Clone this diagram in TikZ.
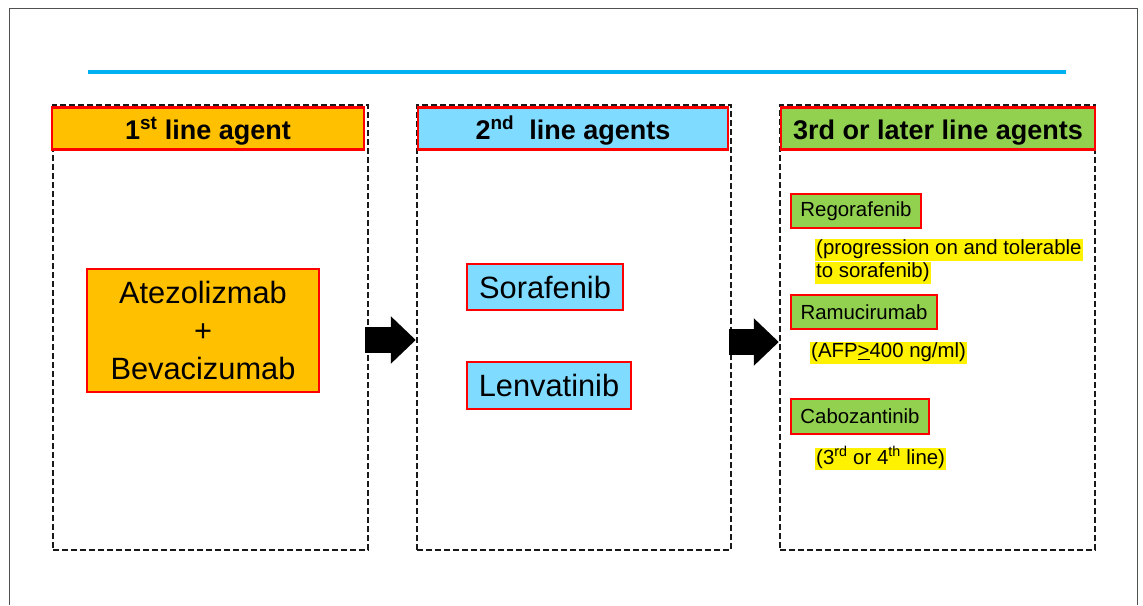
\documentclass[tikz,border=0pt]{standalone}
\usepackage{fontspec}
\setmainfont{Liberation Sans}
\usetikzlibrary{arrows.meta}
\definecolor{hdrorange}{HTML}{FFC000}
\definecolor{hdrblue}{HTML}{7FDBFF}
\definecolor{hdrgreen}{HTML}{92D050}
\definecolor{topblue}{HTML}{00B0F0}
\definecolor{framegray}{HTML}{505050}
\begin{document}
\begin{tikzpicture}[x=1pt,y=-1pt,
  column/.style={draw=black!90, line width=2.4pt, dash pattern=on 6pt off 3pt, inner sep=0pt},
  hdr/.style={draw=red, line width=2.6pt, minimum height=42pt, inner sep=0pt,
    text height=23pt, text depth=2pt,
    font=\fontsize{27}{30}\selectfont\bfseries},
  drug/.style={draw=red, line width=2.6pt, inner sep=0pt, align=center,
    font=\fontsize{30.8}{38}\selectfont},
  small/.style={draw=red, line width=2.6pt, fill=hdrgreen, inner sep=0pt,
    font=\fontsize{20.4}{23}\selectfont},
  note/.style={fill=yellow, inner xsep=1pt, inner ysep=0pt, anchor=west,
    text height=16pt, text depth=6pt, font=\fontsize{20.4}{23}\selectfont},
  bigarrow/.style={draw=black, line width=26pt, -{Triangle[length=25pt,width=46pt]}}
]
\useasboundingbox (0,0) rectangle (1143,605);
\fill[white] (0,0) rectangle (1143,605);
\draw[framegray, line width=1pt] (9,605) -- (9,8) -- (1137,8) -- (1137,605);
\draw[topblue, line width=4pt] (88,72) -- (1066,72);

% columns
\node[column, minimum width=315pt, minimum height=445pt] (c1) at (210.5,327.5) {};
\node[column, minimum width=314pt, minimum height=445pt] (c2) at (574,327.5) {};
\node[column, minimum width=315pt, minimum height=445pt] (c3) at (937.5,327.5) {};

% headers
\node[hdr, fill=hdrorange, minimum width=312pt] (h1) at (208,128.5) {1\textsuperscript{st} line agent};
\node[hdr, fill=hdrblue, minimum width=310pt] (h2) at (573,128.5) {2\textsuperscript{nd}\ \ line agents};
\node[hdr, fill=hdrgreen, minimum width=314pt] (h3) at (938,128.5) {3rd or later line agents};

% first line
\node[drug, fill=hdrorange, minimum width=232pt, minimum height=123pt] (ab) at (203,330.5)
  {Atezolizmab\\+\\Bevacizumab};

% second line
\node[drug, fill=hdrblue, minimum width=156pt, minimum height=46pt] (sor) at (545,287) {Sorafenib};
\node[drug, fill=hdrblue, minimum width=164pt, minimum height=47pt] (len) at (549,385.5) {Lenvatinib};

% third line
\node[small, minimum width=130pt, minimum height=34pt] (reg) at (856,211) {Regorafenib};
\node[note] (nreg1) at (815,249.5) {(progression on and tolerable};
\node[note] (nreg2) at (815,272.5) {to sorafenib)};
\node[small, minimum width=146pt, minimum height=34pt] (ram) at (864,312) {Ramucirumab};
\node[note] (nram) at (810,352.5) {(AFP\underline{>}400 ng/ml)};
\node[small, minimum width=138pt, minimum height=35pt] (cab) at (860,416.5) {Cabozantinib};
\node[note] (ncab) at (815,459) {(3\textsuperscript{rd} or 4\textsuperscript{th} line)};

% arrows
\draw[bigarrow, shorten <=-4pt] ([yshift=-12.5pt]c1.east) -- ([yshift=-12.5pt]c2.west);
\draw[bigarrow, shorten <=-3pt] ([yshift=-14.5pt]c2.east) -- ([yshift=-14.5pt]c3.west);
\end{tikzpicture}
\end{document}
